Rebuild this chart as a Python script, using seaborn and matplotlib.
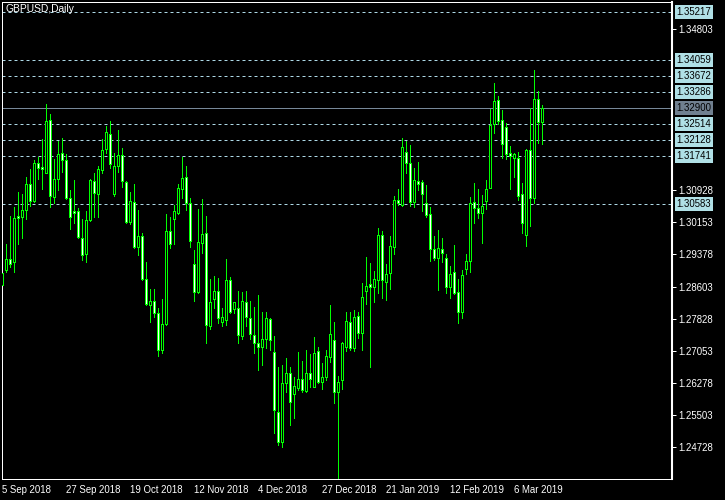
import numpy as np
import pandas as pd
import matplotlib
matplotlib.use("Agg")
import matplotlib.pyplot as plt
import matplotlib.transforms as mtransforms
import seaborn as sns

# ---------------- data ----------------
symbol_title = "GBPUSD,Daily"

opens = [1.2864, 1.2900, 1.2926, 1.2920, 1.3030, 1.3029, 1.3045, 1.3107, 1.3067, 1.3157,
         1.3148, 1.3135, 1.3261, 1.3075, 1.3119, 1.3183, 1.3165, 1.3073, 1.3042, 1.3042,
         1.2978, 1.2938, 1.3021, 1.3115, 1.3083, 1.3140, 1.3191, 1.3227, 1.3083, 1.3152,
         1.3177, 1.3112, 1.3017, 1.3063, 1.2956, 1.2982, 1.2878, 1.2816, 1.2825, 1.2796,
         1.2707, 1.2769, 1.2993, 1.3022, 1.3037, 1.3095, 1.3124, 1.3061, 1.2915, 1.2848,
         1.2966, 1.2989, 1.2764, 1.2830, 1.2850, 1.2776, 1.2780, 1.2876, 1.2806, 1.2808,
         1.2742, 1.2822, 1.2784, 1.2743, 1.2723, 1.2715, 1.2733, 1.2781, 1.2703, 1.2559,
         1.2486, 1.2627, 1.2651, 1.2601, 1.2615, 1.2638, 1.2609, 1.2653, 1.2619, 1.2706,
         1.2629, 1.2643, 1.2691, 1.2731, 1.2605, 1.2635, 1.2715, 1.2774, 1.2713, 1.2789,
         1.2749, 1.2850, 1.2866, 1.2858, 1.2876, 1.2984, 1.2872, 1.2892, 1.2956, 1.3069,
         1.3058, 1.3184, 1.3157, 1.3065, 1.3115, 1.3112, 1.3061, 1.3034, 1.2950, 1.2928,
         1.2950, 1.2928, 1.2860, 1.2895, 1.2846, 1.2800, 1.2902, 1.2922, 1.3063, 1.3049,
         1.3037, 1.3067, 1.3097, 1.3251, 1.3310, 1.3262, 1.3244, 1.3182, 1.3169, 1.3169,
         1.3083, 1.2985, 1.3189, 1.3073, 1.3312, 1.3258]

highs = [1.2904, 1.2963, 1.3030, 1.3053, 1.3089, 1.3083, 1.3124, 1.3144, 1.3165, 1.3173,
         1.3215, 1.3300, 1.3276, 1.3168, 1.3212, 1.3218, 1.3180, 1.3093, 1.3117, 1.3050,
         1.3023, 1.3042, 1.3119, 1.3133, 1.3151, 1.3215, 1.3247, 1.3259, 1.3181, 1.3238,
         1.3193, 1.3115, 1.3087, 1.3107, 1.3045, 1.2990, 1.2920, 1.2854, 1.2854, 1.2808,
         1.2830, 1.3035, 1.3029, 1.3057, 1.3107, 1.3173, 1.3151, 1.3073, 1.2948, 1.3046,
         1.3071, 1.3030, 1.2878, 1.2886, 1.2880, 1.2808, 1.2926, 1.2883, 1.2824, 1.2850,
         1.2848, 1.2850, 1.2826, 1.2812, 1.2840, 1.2800, 1.2800, 1.2784, 1.2740, 1.2667,
         1.2671, 1.2689, 1.2666, 1.2643, 1.2703, 1.2681, 1.2707, 1.2697, 1.2738, 1.2714,
         1.2677, 1.2707, 1.2816, 1.2774, 1.2645, 1.2727, 1.2800, 1.2800, 1.2804, 1.2800,
         1.2868, 1.2932, 1.2918, 1.2898, 1.3002, 1.2995, 1.2915, 1.2981, 1.3079, 1.3095,
         1.3218, 1.3212, 1.3201, 1.3145, 1.3161, 1.3116, 1.3105, 1.3051, 1.2981, 1.2997,
         1.2978, 1.2939, 1.2910, 1.2960, 1.2879, 1.2899, 1.2939, 1.3075, 1.3111, 1.3095,
         1.3081, 1.3116, 1.3287, 1.3352, 1.3320, 1.3286, 1.3255, 1.3199, 1.3181, 1.3185,
         1.3111, 1.3191, 1.3290, 1.3382, 1.3332, 1.3299]

lows = [1.2852, 1.2896, 1.2908, 1.2896, 1.2964, 1.2978, 1.3022, 1.3054, 1.3063, 1.3119,
        1.3096, 1.3135, 1.3053, 1.3061, 1.3093, 1.3137, 1.3071, 1.3000, 1.3013, 1.2977,
        1.2924, 1.2920, 1.3019, 1.3027, 1.3029, 1.3133, 1.3181, 1.3145, 1.3079, 1.3137,
        1.3101, 1.3014, 1.3011, 1.2952, 1.2936, 1.2876, 1.2816, 1.2776, 1.2788, 1.2694,
        1.2699, 1.2768, 1.2952, 1.2964, 1.3035, 1.3073, 1.3045, 1.2956, 1.2826, 1.2844,
        1.2940, 1.2723, 1.2757, 1.2808, 1.2772, 1.2764, 1.2768, 1.2797, 1.2797, 1.2725,
        1.2733, 1.2764, 1.2733, 1.2699, 1.2658, 1.2671, 1.2713, 1.2707, 1.2507, 1.2478,
        1.2474, 1.2607, 1.2527, 1.2543, 1.2611, 1.2607, 1.2607, 1.2617, 1.2617, 1.2627,
        1.2614, 1.2635, 1.2679, 1.2579, 1.2395, 1.2613, 1.2706, 1.2707, 1.2706, 1.2736,
        1.2707, 1.2817, 1.2667, 1.2824, 1.2844, 1.2832, 1.2828, 1.2854, 1.2939, 1.3057,
        1.3054, 1.3135, 1.3055, 1.3053, 1.3093, 1.3043, 1.3029, 1.2923, 1.2924, 1.2852,
        1.2920, 1.2844, 1.2832, 1.2842, 1.2772, 1.2784, 1.2890, 1.2895, 1.3013, 1.3025,
        1.2966, 1.3046, 1.3097, 1.3231, 1.3252, 1.3171, 1.3167, 1.3095, 1.3124, 1.3069,
        1.2989, 1.2959, 1.3005, 1.3061, 1.3207, 1.3203]

closes = [1.2892, 1.2926, 1.2915, 1.3025, 1.3025, 1.3045, 1.3107, 1.3067, 1.3157, 1.3147,
          1.3143, 1.3259, 1.3079, 1.3120, 1.3180, 1.3165, 1.3073, 1.3029, 1.3038, 1.2979,
          1.2936, 1.3021, 1.3117, 1.3085, 1.3144, 1.3189, 1.3232, 1.3156, 1.3152, 1.3177,
          1.3115, 1.3017, 1.3067, 1.2956, 1.2982, 1.2879, 1.2818, 1.2825, 1.2796, 1.2707,
          1.2769, 1.2993, 1.2964, 1.3042, 1.3097, 1.3122, 1.3061, 1.2969, 1.2848, 1.2967,
          1.2987, 1.2768, 1.2823, 1.2850, 1.2785, 1.2786, 1.2876, 1.2800, 1.2822, 1.2744,
          1.2825, 1.2788, 1.2746, 1.2723, 1.2715, 1.2733, 1.2784, 1.2731, 1.2563, 1.2486,
          1.2627, 1.2651, 1.2583, 1.2621, 1.2637, 1.2611, 1.2653, 1.2637, 1.2699, 1.2631,
          1.2642, 1.2694, 1.2745, 1.2605, 1.2629, 1.2723, 1.2777, 1.2713, 1.2786, 1.2748,
          1.2834, 1.2862, 1.2858, 1.2879, 1.2985, 1.2876, 1.2891, 1.2958, 1.3069, 1.3061,
          1.3197, 1.3157, 1.3065, 1.3117, 1.3107, 1.3083, 1.3033, 1.2950, 1.2928, 1.2952,
          1.2940, 1.2858, 1.2890, 1.2844, 1.2798, 1.2888, 1.2922, 1.3061, 1.3049, 1.3037,
          1.3054, 1.3095, 1.3250, 1.3308, 1.3259, 1.3203, 1.3179, 1.3175, 1.3179, 1.3079,
          1.3014, 1.3189, 1.3073, 1.3312, 1.3258, 1.3290]

date_tick_bars = [0, 16, 32, 48, 64, 80, 96, 112, 128]
date_tick_labels = ["5 Sep 2018", "27 Sep 2018", "19 Oct 2018", "12 Nov 2018", "4 Dec 2018",
                    "27 Dec 2018", "21 Jan 2019", "12 Feb 2019", "6 Mar 2019"]

price_ticks = [1.34803, 1.30928, 1.30153, 1.29378, 1.28603, 1.27828,
               1.27053, 1.26278, 1.25503, 1.24728]

level_lines = [1.35217, 1.34059, 1.33672, 1.33286, 1.32514, 1.32128, 1.31741, 1.30583]
last_price = 1.32900

# ---------------- style ----------------
sns.set_theme(style="dark", rc={
    "figure.facecolor": "black",
    "axes.facecolor": "black",
    "axes.edgecolor": "white",
    "axes.grid": False,
    "xtick.color": "white",
    "ytick.color": "white",
    "text.color": "white",
})
plt.rcParams["font.family"] = ["Liberation Sans", "DejaVu Sans"]
FS = 6.9

df = pd.DataFrame({"open": opens, "high": highs, "low": lows, "close": closes})
df["bar"] = np.arange(len(df))
df["bull"] = df["close"] >= df["open"]

W, H = 725, 500
fig = plt.figure(figsize=(W / 100, H / 100), dpi=100)
ax = fig.add_axes([2 / W, 21 / H, 670 / W, 477 / H])

GREEN = "#00ff00"
px = 0.72  # one pixel in points

# level lines
for lv in level_lines:
    ax.axhline(lv, color="#add8e6", lw=px, ls=(0, (3, 3)), zorder=1)
ax.axhline(last_price, color="#778899", lw=px, zorder=1)

# wicks
ax.vlines(df["bar"], df["low"], df["high"], color=GREEN, lw=px, zorder=2,
          antialiased=False)

# bodies
body_bottom = np.minimum(df["open"], df["close"])
body_height = np.abs(df["close"] - df["open"])
fills = np.where(df["bull"], "black", "white")
ax.bar(df["bar"], body_height, bottom=body_bottom, width=0.55,
       color=fills, edgecolor=GREEN, linewidth=px, zorder=3, antialiased=False)

ax.set_xlim(-0.075, 167.4)
ax.set_ylim(1.23964, 1.35461)

# axes frame
for side in ["left", "top", "bottom"]:
    ax.spines[side].set_color("white")
    ax.spines[side].set_linewidth(px)
ax.spines["right"].set_color("white")
ax.spines["right"].set_linewidth(1.5)

# x ticks
ax.set_xticks(date_tick_bars)
ax.set_xticklabels(date_tick_labels, fontsize=FS, color="white", ha="left")
ax.tick_params(axis="x", direction="out", length=3, width=px, colors="white", pad=1.5)

# y ticks on the right
ax.yaxis.tick_right()
ax.set_yticks(price_ticks)
ax.set_yticklabels([f"{v:.5f}" for v in price_ticks], fontsize=FS, color="white")
ax.tick_params(axis="y", direction="out", length=3, width=px, colors="white", pad=1.5)
ax.set_xlabel("")
ax.set_ylabel("")

# level labels
trans = mtransforms.blended_transform_factory(ax.transAxes, ax.transData)
xlab = 1 + 4.5 / 670
for lv in level_lines:
    ax.text(xlab, lv, f"{lv:.5f}", transform=trans, fontsize=FS, color="black",
            ha="left", va="center", clip_on=False, zorder=5,
            bbox=dict(facecolor="#b0e0e6", edgecolor="none", boxstyle="square,pad=0.2"))
ax.text(xlab, last_price, f"{last_price:.5f}", transform=trans, fontsize=FS, color="black",
        ha="left", va="center", clip_on=False, zorder=5,
        bbox=dict(facecolor="#708090", edgecolor="none", boxstyle="square,pad=0.2"))

fig.text(6 / W, 1 - 9 / H, symbol_title, fontsize=7.4, color="white", ha="left", va="center")

fig.savefig("out.png", dpi=100, facecolor="black")
